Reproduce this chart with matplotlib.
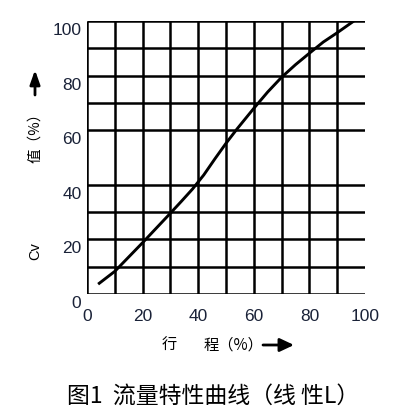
import matplotlib
matplotlib.use("Agg")
import matplotlib.pyplot as plt
from matplotlib.patches import FancyArrowPatch
from matplotlib.transforms import ScaledTranslation

plt.rcParams["font.family"] = ["Liberation Sans", "DejaVu Sans"]

# ---- data ----
travel = [4, 10, 20, 30, 34, 38, 42, 46, 50, 54, 60, 65, 70, 75, 80, 85, 90, 96]
cv = [3.6, 8.3, 18.8, 29.6, 34.0, 38.5, 43.6, 49.5, 55.2, 60.5, 68.0, 74.0,
      79.4, 84.0, 88.2, 92.3, 95.7, 100]
x_ticks = [0, 20, 40, 60, 80, 100]
x_tick_labels = ["0", "20", "40", "60", "80", "100"]
y_ticks = [0, 20, 40, 60, 80, 100]
y_tick_labels = ["0", "20", "40", "60", "80", "100"]
h_grid = [0, 10, 20, 30, 40, 60, 70, 80, 90, 100]
v_grid = [0, 10, 20, 30, 40, 50, 60, 70, 80, 90]

title_text = "图1  流量特性曲线（线 性L）"
cjk = ["Noto Sans CJK SC", "DejaVu Sans"]
tick_color = "#1a2238"

W, H = 408, 420
fig = plt.figure(figsize=(W / 100, H / 100), dpi=100)
ax = fig.add_axes([87 / W, 126 / H, 278 / W, 273 / H])
ax.set_xlim(0, 100)
ax.set_ylim(0, 100)
for s in ax.spines.values():
    s.set_visible(False)

ax.hlines(h_grid, 0, 100, colors="black", lw=1.8, zorder=1)
ax.vlines(v_grid, 0, 100, colors="black", lw=1.8, zorder=1)
ax.plot(travel, cv, color="black", lw=2.1, zorder=3,
        solid_capstyle="butt", solid_joinstyle="round")

ax.set_xticks(x_ticks, x_tick_labels)
ax.set_yticks(y_ticks, y_tick_labels)
ax.tick_params(length=0)
ax.tick_params(axis="x", pad=10.5, labelsize=12.5, labelcolor=tick_color)
ax.tick_params(axis="y", pad=4, labelsize=12.5, labelcolor=tick_color)
off = ScaledTranslation(0, -8 / 100, fig.dpi_scale_trans)
for lab in ax.get_yticklabels():
    lab.set_transform(lab.get_transform() + off)


def fx(px):
    return px / W


def fy(py):
    return 1 - py / H


# y axis label pieces
fig.text(fx(35), fy(251), "Cv", rotation=90, ha="center", va="center",
         fontsize=10.5, color="black")
fig.text(fx(35), fy(134), "值（%）", rotation=90, ha="center", va="center",
         fontsize=10.5, family=cjk, color="black")
fig.add_artist(FancyArrowPatch(
    (fx(35), fy(95)), (fx(35), fy(70)), transform=fig.transFigure,
    arrowstyle="-|>,head_length=8.5,head_width=3.0", lw=2.0, color="black",
    shrinkA=0, shrinkB=0, mutation_scale=1))

# x axis label pieces
fig.text(fx(162), fy(345), "行", ha="left", va="center", fontsize=11,
         family=cjk, color="black")
fig.text(fx(204), fy(345), "程（%）", ha="left", va="center", fontsize=11,
         family=cjk, color="black")
fig.add_artist(FancyArrowPatch(
    (fx(263), fy(345)), (fx(294), fy(345)), transform=fig.transFigure,
    arrowstyle="-|>,head_length=8.5,head_width=4.0", lw=2.0, color="black",
    shrinkA=0, shrinkB=0, mutation_scale=1))

fig.text(fx(213), fy(396), title_text, ha="center", va="center",
         fontsize=16.5, family=cjk, color="black")

fig.savefig("out.png", dpi=100, facecolor="white")
